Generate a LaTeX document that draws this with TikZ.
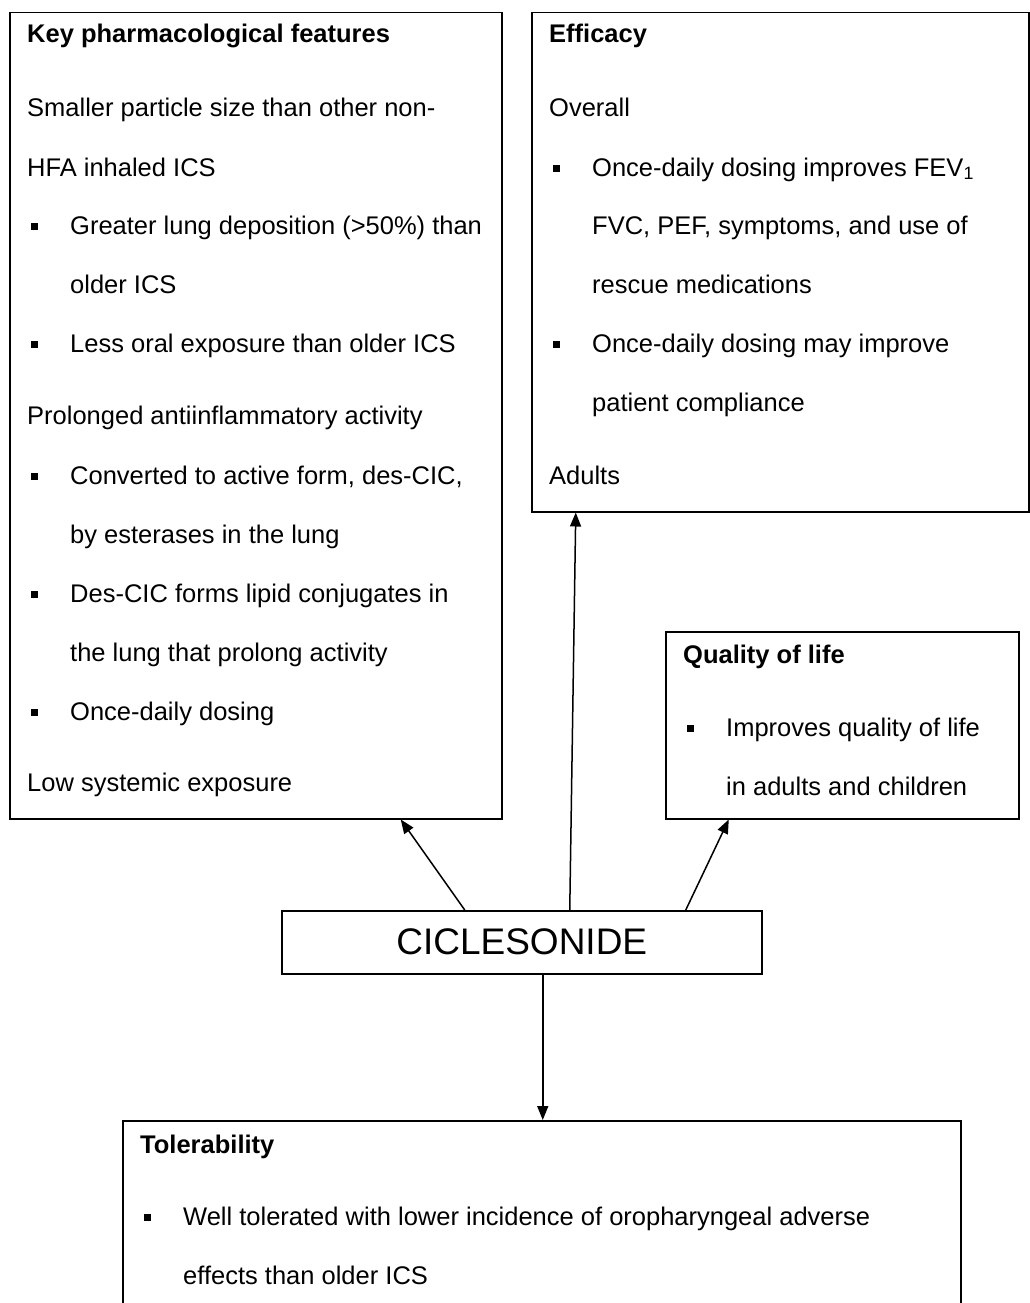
\documentclass[tikz,border=0pt]{standalone}
\usepackage{fontspec}
\setmainfont{Liberation Sans}
\usetikzlibrary{arrows.meta}
\newcommand{\sqbul}{\makebox[39pt][l]{\rule[4.5pt]{7pt}{7pt}}}
\begin{document}
\begin{tikzpicture}[x=1pt,y=-1pt,
  boxnode/.style={draw, line width=1.5pt, inner sep=0pt, anchor=north west},
  txt/.style={anchor=base west, inner sep=0pt, font=\fontsize{25.5}{30}\selectfont},
  head/.style={anchor=base west, inner sep=0pt, font=\fontsize{25.5}{30}\selectfont\bfseries},
  conn/.style={line width=1.5pt, -{Triangle[length=14pt,width=11pt]}}]
\useasboundingbox (0,0) rectangle (1029,1303);
\fill[white] (0,0) rectangle (1029,1303);

% boxes
\node[boxnode, minimum width=492pt, minimum height=806pt] (key) at (9,12) {};
\node[boxnode, minimum width=497pt, minimum height=499pt] (eff) at (531,12) {};
\node[boxnode, minimum width=353pt, minimum height=187pt] (qol) at (665,631) {};
\node[boxnode, minimum width=480pt, minimum height=63pt] (cic) at (281,910) {};
\node[boxnode, minimum width=838pt, minimum height=200pt] (tol) at (122,1120) {};

% Key pharmacological features
\node[head] (k0) at (27,43) {Key pharmacological features};
\node[txt] (k1) at (27,117) {Smaller particle size than other non-};
\node[txt] (k2) at (27,176) {HFA inhaled ICS};
\node[txt] (k3) at (31,234) {\sqbul Greater lung deposition (>50\%) than};
\node[txt] (k4) at (70,293) {older ICS};
\node[txt] (k5) at (31,352) {\sqbul Less oral exposure than older ICS};
\node[txt] (k6) at (27,424) {Prolonged antiinflammatory activity};
\node[txt] (k7) at (31,484) {\sqbul Converted to active form, des-CIC,};
\node[txt] (k8) at (70,543) {by esterases in the lung};
\node[txt] (k9) at (31,602) {\sqbul Des-CIC forms lipid conjugates in};
\node[txt] (k10) at (70,661) {the lung that prolong activity};
\node[txt] (k11) at (31,720) {\sqbul Once-daily dosing};
\node[txt] (k12) at (27,791) {Low systemic exposure};

% Efficacy
\node[head] (e0) at (549,43) {Efficacy};
\node[txt] (e1) at (549,117) {Overall};
\node[txt] (e2) at (553,176) {\sqbul Once-daily dosing improves FEV\textsubscript{1}};
\node[txt] (e3) at (592,234) {FVC, PEF, symptoms, and use of};
\node[txt] (e4) at (592,293) {rescue medications};
\node[txt] (e5) at (553,352) {\sqbul Once-daily dosing may improve};
\node[txt] (e6) at (592,411) {patient compliance};
\node[txt] (e7) at (549,484) {Adults};

% Quality of life
\node[head] (q0) at (683,663) {Quality of life};
\node[txt] (q1) at (687,736) {\sqbul Improves quality of life};
\node[txt] (q2) at (726,795) {in adults and children};

% Ciclesonide
\node[inner sep=0pt, font=\fontsize{37}{40}\selectfont] (cictxt) at (cic.center) {CICLESONIDE};

% Tolerability
\node[head] (t0) at (140,1153) {Tolerability};
\node[txt] (t1) at (144,1225) {\sqbul Well tolerated with lower incidence of oropharyngeal adverse};
\node[txt] (t2) at (183,1284) {effects than older ICS};

% connectors
\draw[conn] ([xshift=-57pt]cic.north) -- ([xshift=145pt]key.south);
\draw[conn] ([xshift=48pt]cic.north) -- ([xshift=-204.5pt]eff.south);
\draw[conn] ([xshift=164pt]cic.north) -- ([xshift=-113.5pt]qol.south);
\draw[conn] ([xshift=21pt]cic.south) -- ([xshift=21pt]cic.south |- tol.north);
\end{tikzpicture}
\end{document}
